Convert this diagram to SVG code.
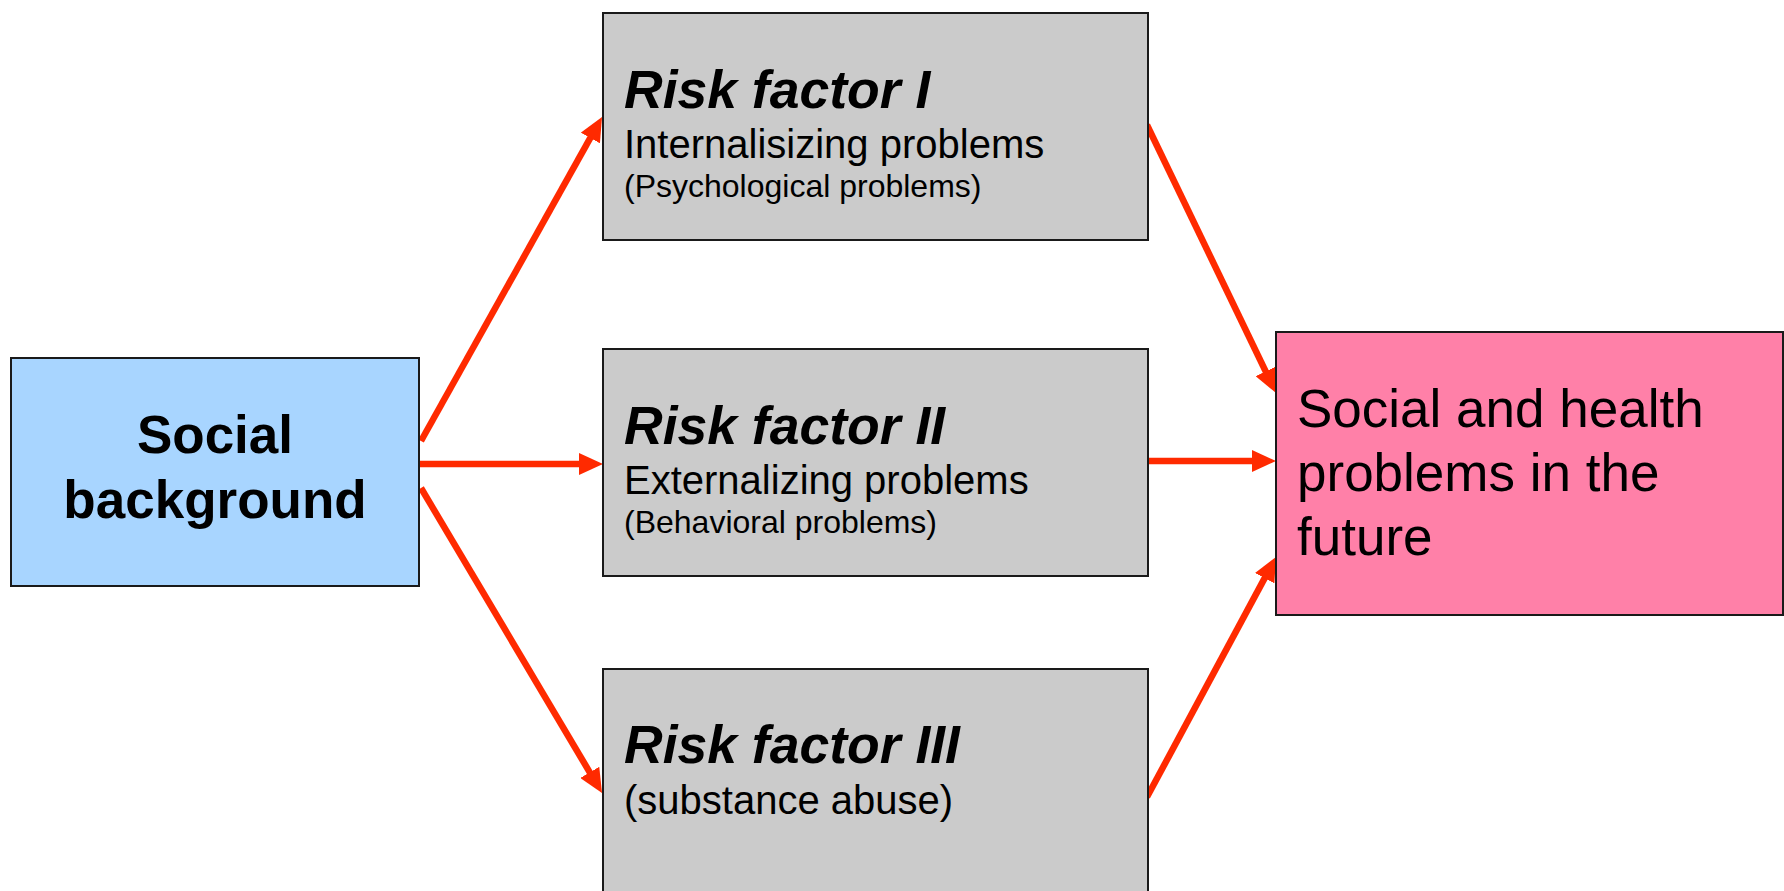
<svg xmlns="http://www.w3.org/2000/svg" width="1784" height="891" viewBox="0 0 1784 891">
<style>
.box{stroke:#1a1a1a;stroke-width:2}
.grey{fill:#cbcbcb}
.t{font-family:"Liberation Sans",Arial,sans-serif;fill:#000}
.title{font-size:53.5px;font-weight:bold;font-style:italic}
.sub{font-size:40px}
.small{font-size:32px}
.conn{stroke:#ff2a00;stroke-width:6.5;fill:none;marker-end:url(#ah)}
</style>
<defs>
<marker id="ah" markerUnits="userSpaceOnUse" markerWidth="24" markerHeight="22" viewBox="0 0 24 22" refX="2" refY="11" orient="auto">
<path d="M0,0 L24,11 L0,22 z" fill="#ff2a00"/>
</marker>
</defs>
<rect width="1784" height="891" fill="#fff"/>
<g id="connectors">
<line class="conn" x1="421" y1="441" x2="591.3" y2="136.2"/>
<line class="conn" x1="420" y1="464" x2="581" y2="464"/>
<line class="conn" x1="421" y1="488" x2="590.8" y2="774.1"/>
<line class="conn" x1="1147" y1="125" x2="1266.5" y2="373.2"/>
<line class="conn" x1="1149" y1="461" x2="1254" y2="461"/>
<line class="conn" x1="1147" y1="797" x2="1265.6" y2="576.4"/>
</g>
<g id="social-background">
<rect class="box" x="11" y="358" width="408" height="228" fill="#a8d5ff"/>
<text class="t" x="215" y="453" text-anchor="middle" font-size="53" font-weight="bold">Social</text>
<text class="t" x="215" y="518" text-anchor="middle" font-size="53" font-weight="bold">background</text>
</g>
<g id="risk-factor-1">
<rect class="box grey" x="603" y="13" width="545" height="227"/>
<text class="t title" x="624" y="108">Risk factor I</text>
<text class="t sub" x="624" y="158">Internalisizing problems</text>
<text class="t small" x="624" y="197">(Psychological problems)</text>
</g>
<g id="risk-factor-2">
<rect class="box grey" x="603" y="349" width="545" height="227"/>
<text class="t title" x="624" y="444">Risk factor II</text>
<text class="t sub" x="624" y="494">Externalizing problems</text>
<text class="t small" x="624" y="533">(Behavioral problems)</text>
</g>
<g id="risk-factor-3">
<rect class="box grey" x="603" y="669" width="545" height="240"/>
<text class="t title" x="624" y="763">Risk factor III</text>
<text class="t sub" x="624" y="814">(substance abuse)</text>
</g>
<g id="outcome">
<rect class="box" x="1276" y="332" width="507" height="283" fill="#ff80a8"/>
<text class="t" x="1297" y="427" font-size="53">Social and health</text>
<text class="t" x="1297" y="491" font-size="53">problems in the</text>
<text class="t" x="1297" y="555" font-size="53">future</text>
</g>
</svg>
